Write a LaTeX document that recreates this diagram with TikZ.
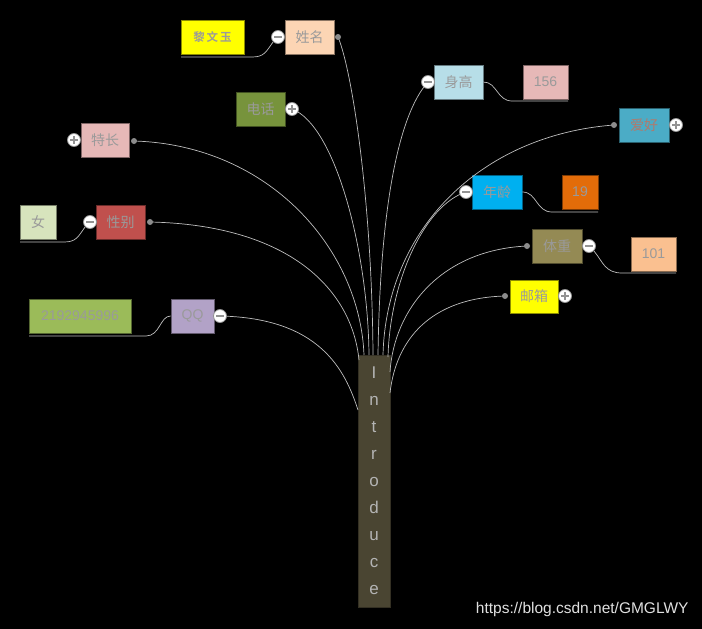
\documentclass[tikz,border=0pt]{standalone}
\usepackage{fontspec}
\setmainfont{Liberation Sans}
\newfontfamily\cjk{Noto Sans CJK SC}
\newfontfamily\cjkb{Noto Sans CJK SC Bold}
\definecolor{cPeach}{HTML}{FCD5B4}
\definecolor{cYellow}{HTML}{FFFF00}
\definecolor{cLBlue}{HTML}{B7DEE8}
\definecolor{cPink}{HTML}{E6B8B7}
\definecolor{cTeal}{HTML}{4BACC6}
\definecolor{cOlive}{HTML}{77933C}
\definecolor{cRed}{HTML}{C0504D}
\definecolor{cLGreen}{HTML}{D7E4BD}
\definecolor{cBlue}{HTML}{00B0F0}
\definecolor{cOrange}{HTML}{E36C09}
\definecolor{cKhaki}{HTML}{948A54}
\definecolor{cApricot}{HTML}{FAC090}
\definecolor{cLav}{HTML}{B2A2C7}
\definecolor{cGreen}{HTML}{9BBB59}
\definecolor{cIntro}{HTML}{4A4532}
\definecolor{txtgray}{HTML}{9A9A9A}
\definecolor{introtxt}{HTML}{B4B4B4}
\definecolor{linegray}{HTML}{BEBEBE}
\definecolor{dotgray}{HTML}{8C8C8C}
\definecolor{redtxt}{HTML}{B07A6C}
\tikzset{
  mbox/.style={fill=#1, draw=#1!55!black, line width=0.8pt, inner sep=0pt,
    minimum height=34pt, text=txtgray, font=\cjk\fontsize{14}{14}\selectfont},
  conn/.style={draw=linegray, line width=0.7pt},
  tog/.style={circle, draw=gray!85, fill=white, line width=0.8pt,
    minimum size=13pt, inner sep=0pt},
  minusn/.style={tog, path picture={\draw[line width=1.1pt]
    ([xshift=-3.8pt]path picture bounding box.center) -- ([xshift=3.8pt]path picture bounding box.center);}},
  plusn/.style={tog, path picture={\draw[line width=1.1pt]
    ([xshift=-3.8pt]path picture bounding box.center) -- ([xshift=3.8pt]path picture bounding box.center)
    ([yshift=-3.8pt]path picture bounding box.center) -- ([yshift=3.8pt]path picture bounding box.center);}},
  dotn/.style={circle, fill=dotgray, minimum size=6pt, inner sep=0pt},
}
\begin{document}
\begin{tikzpicture}[x=1pt,y=-1pt]
\fill[black] (0,0) rectangle (702,629);
\useasboundingbox (0,0) rectangle (702,629);

% central node
\node[fill=cIntro, draw=cIntro!70!black, line width=0.8pt, minimum width=32pt, minimum height=252pt,
  inner sep=0pt, align=center, text=introtxt, font=\fontsize{17}{27}\selectfont]
  (intro) at (374,481) {I\\n\\t\\r\\o\\d\\u\\c\\e};
\coordinate (iQQ) at (358,410);
\coordinate (iXB) at (359,360);
\coordinate (iTC) at (364,355);
\coordinate (iDH) at (369,355);
\coordinate (iXM) at (373,355);
\coordinate (iSG) at (378,355);
\coordinate (iAH) at (383,355);
\coordinate (iNL) at (388,357);
\coordinate (iTZ) at (390,372);
\coordinate (iYX) at (390,393);

% main nodes
\node[mbox=cPeach, minimum width=49pt] (xm) at (309.5,37) {姓名};
\node[mbox=cLBlue, minimum width=49pt] (sg) at (458.5,82) {身高};
\node[mbox=cTeal, minimum width=50pt, text=redtxt] (ah) at (644,125) {爱好};
\node[mbox=cOlive, minimum width=49pt] (dh) at (260.5,109) {电话};
\node[mbox=cPink, minimum width=48pt] (tc) at (105,140) {特长};
\node[mbox=cRed, minimum width=49pt] (xb) at (120.5,222) {性别};
\node[mbox=cBlue, minimum width=50pt] (nl) at (497,192) {年龄};
\node[mbox=cKhaki, minimum width=50pt] (tz) at (557,246) {体重};
\node[mbox=cYellow, minimum width=48pt, minimum height=33pt] (yx) at (534,296.5) {邮箱};
\node[mbox=cLav, minimum width=43pt, font=\fontsize{14}{14}\selectfont] (qq) at (192.5,316) {QQ};

% children
\node[mbox=cYellow, minimum width=63pt, font=\cjkb\fontsize{11.5}{11.5}\selectfont] (lwy) at (212.5,37) {黎\,文\,玉};
\node[mbox=cPink, minimum width=45pt, font=\fontsize{14}{14}\selectfont] (v156) at (545.5,82) {156};
\node[mbox=cLGreen, minimum width=36pt] (nv) at (38,222) {女};
\node[mbox=cOrange, minimum width=36pt, font=\fontsize{14}{14}\selectfont] (v19) at (580,192) {19};
\node[mbox=cApricot, minimum width=45pt, font=\fontsize{14}{14}\selectfont] (v101) at (653.5,254) {101};
\node[mbox=cGreen, minimum width=102pt, font=\fontsize{14}{14}\selectfont] (vqq) at (80,316) {2192945996};

% main connectors
\draw[conn] (iXM) .. controls (372,200) and (352,70) .. (338,37);
\draw[conn] (iDH) .. controls (368,250) and (335,125) .. (292,109);
\draw[conn] (iTC) .. controls (360,250) and (270,145) .. (134,141);
\draw[conn] (iXB) .. controls (352,290) and (290,225) .. (150,222);
\draw[conn] (iQQ) .. controls (345,370) and (320,318) .. (220,316);
\draw[conn] (iSG) .. controls (380,210) and (398,115) .. (428,82);
\draw[conn] (iAH) .. controls (386,230) and (480,135) .. (614,125);
\draw[conn] (iNL) .. controls (390,280) and (425,205) .. (466,192);
\draw[conn] (iTZ) .. controls (394,310) and (440,250) .. (527,246);
\draw[conn] (iYX) .. controls (396,340) and (430,298) .. (505,296);

% toggles and dots
\node[dotn] (dXM) at (338,37) {};
\node[minusn] (mXM) at (278,37) {};
\node[minusn] (mSG) at (428,82) {};
\node[dotn] (dAH) at (614,125) {};
\node[plusn] (pAH) at (676,125) {};
\node[plusn] (pDH) at (292,109) {};
\node[plusn] (pTC) at (74,140) {};
\node[dotn] (dTC) at (134,141) {};
\node[minusn] (mXB) at (90,222) {};
\node[dotn] (dXB) at (150,222) {};
\node[minusn] (mNL) at (466,192) {};
\node[dotn] (dTZ) at (527,246) {};
\node[minusn] (mTZ) at (589,246) {};
\node[dotn] (dYX) at (505,296) {};
\node[plusn] (pYX) at (565,296) {};
\node[minusn] (mQQ) at (220,316) {};

% child connectors
\coordinate (uLWY) at (181,57);
\coordinate (u156) at (568,101);
\coordinate (uNV) at (20,242);
\coordinate (u19) at (598,212);
\coordinate (u101) at (676,273);
\coordinate (uQQ) at (29,336);
\draw[conn] (mXM.south west) .. controls (266,52) and (264,57) .. (252,57) -- (uLWY);
\draw[conn] (sg.east) .. controls (497,82) and (497,101) .. (512,101) -- (u156);
\draw[conn] (mXB.south west) .. controls (78,237) and (76,242) .. (64,242) -- (uNV);
\draw[conn] (nl.east) .. controls (537,192) and (536,212) .. (552,212) -- (u19);
\draw[conn] (mTZ.south east) .. controls (603,262) and (605,273) .. (622,273) -- (u101);
\draw[conn] (qq.west) .. controls (160,316) and (160,336) .. (146,336) -- (uQQ);

% watermark
\node[text=white!88!black, font=\fontsize{15.5}{15.5}\selectfont, anchor=east] (wm) at (692,609) {https://blog.csdn.net/GMGLWY};
\end{tikzpicture}
\end{document}
